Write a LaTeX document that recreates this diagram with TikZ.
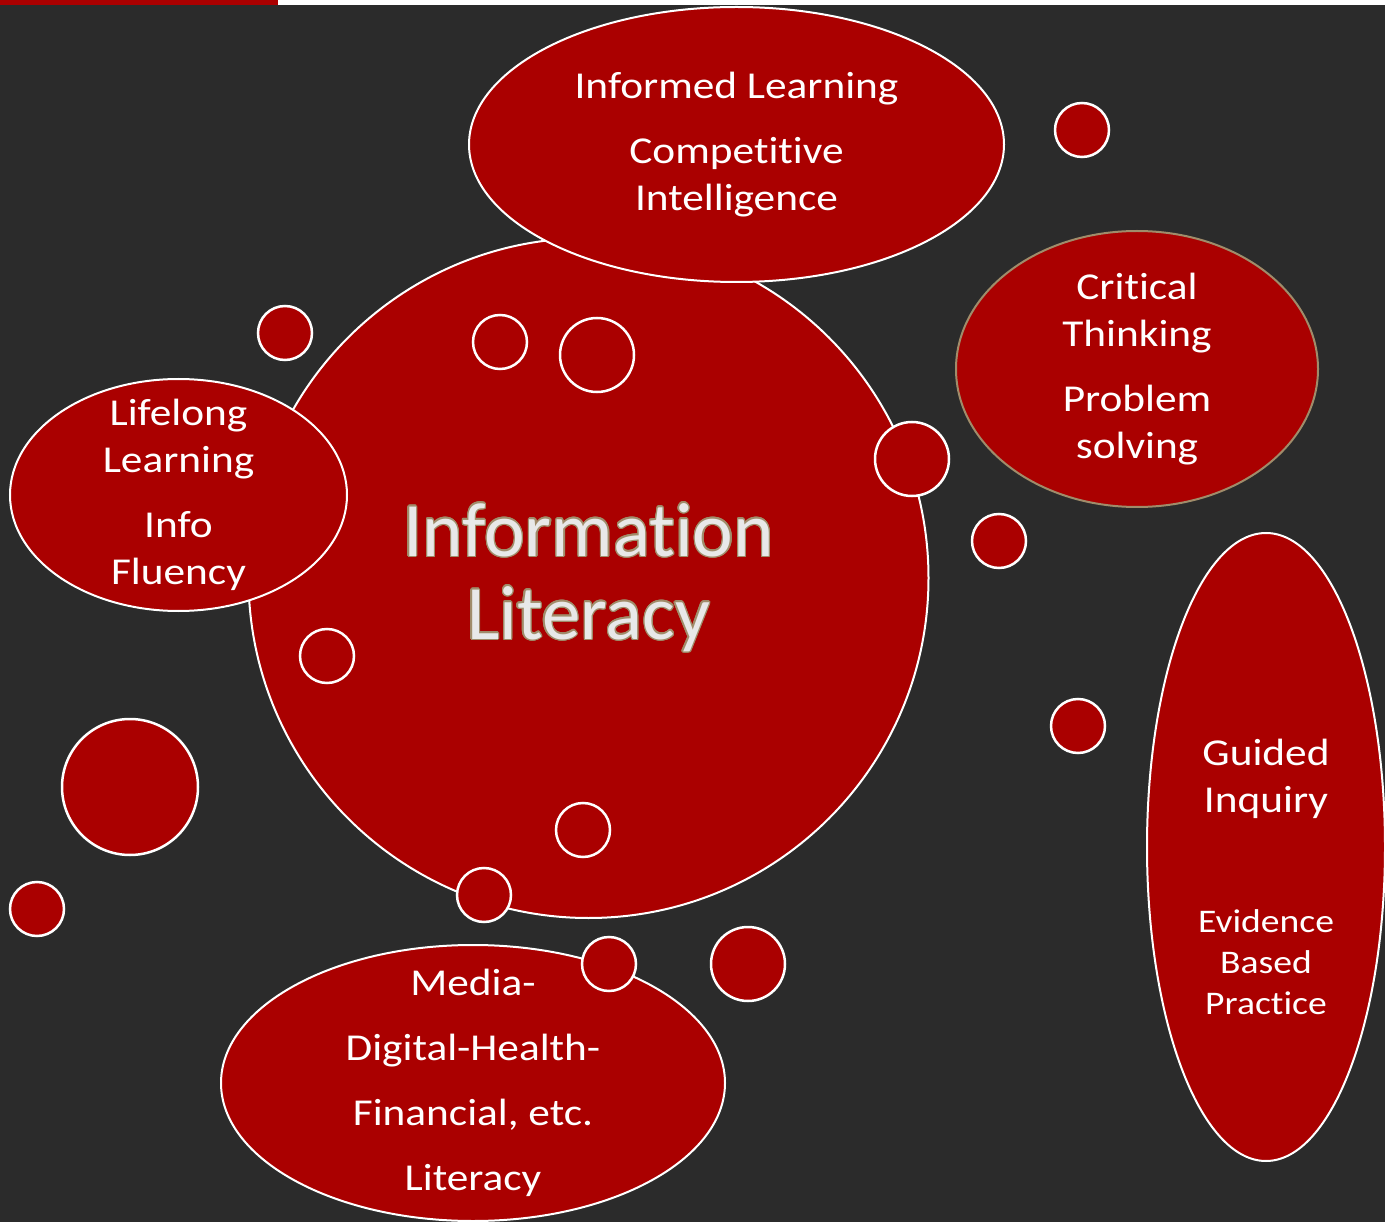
\documentclass[tikz,border=0pt]{standalone}
\usepackage{fontspec}
\setmainfont[Ligatures={NoCommon}]{Carlito}
\newfontfamily\ample[FakeStretch=1.14, Ligatures={NoCommon}]{Carlito}
\usepackage{contour}
\usetikzlibrary{shapes.geometric}

\definecolor{fons}{HTML}{2B2B2B}
\definecolor{vermell}{HTML}{AA0000}
\definecolor{daurat}{HTML}{A08C6A}
\definecolor{gris}{HTML}{E8E8E8}
\contourlength{1.3pt}

\begin{document}
\begin{tikzpicture}[x=1pt,y=-1pt,
    bombolla/.style={ellipse, draw=white, line width=2pt, fill=vermell, inner sep=0pt},
    bolla/.style={circle, draw=white, line width=2.5pt, fill=vermell, inner sep=0pt, minimum size=#1},
    bolla/.default=54pt,
    rotul/.style={text=white, align=center, font=\ample\fontsize{38}{47}\selectfont}]
        % Fons i franja superior
        \fill[fons] (0,0) rectangle (1385,1222);
        \fill[white] (278,0) rectangle (1385,5);
        \fill[vermell] (0,0) rectangle (278,5);
        \useasboundingbox (0,0) rectangle (1385,1222);

        % Cercle central
        \node[bolla=680pt, line width=2pt] (info) at (588.5,578) {};

        % Bombolles grans
        \node[bombolla, minimum width=535pt, minimum height=275pt] (informed) at (736.5,144.5) {};
        \node[bombolla, minimum width=337pt, minimum height=232pt] (lifelong) at (178.5,495) {};
        \node[bombolla, draw=daurat, minimum width=362pt, minimum height=276pt] (critical) at (1137,369) {};
        \node[bombolla, minimum width=238pt, minimum height=628pt] (guided) at (1266,847) {};
        \node[bombolla, minimum width=504pt, minimum height=276pt] (media) at (473,1083) {};

        % Bolles petites
        \node[bolla] (b1) at (1082,130) {};
        \node[bolla] (b2) at (285,333) {};
        \node[bolla] (b3) at (500,342) {};
        \node[bolla=74pt] (b4) at (597,355) {};
        \node[bolla=74pt] (b5) at (912,459) {};
        \node[bolla] (b6) at (999,541) {};
        \node[bolla] (b7) at (327,656) {};
        \node[bolla] (b8) at (1078,726) {};
        \node[bolla=136pt] (b9) at (130,787) {};
        \node[bolla] (b10) at (583,830) {};
        \node[bolla] (b11) at (484,895) {};
        \node[bolla] (b12) at (37,909) {};
        \node[bolla] (b13) at (609,964) {};
        \node[bolla=74pt] (b14) at (748,964) {};

        % Textos
        \node[rotul, font=\rmfamily\fontsize{77}{83}\selectfont, text=gris] (tinfo) at (info)
            {\contour{daurat}{Information}\\\contour{daurat}{Literacy}};
        \node[rotul] (tinformed) at (informed) {Informed Learning\\[18pt]Competitive\\Intelligence};
        \node[rotul] (tlifelong) at (lifelong) {Lifelong\\Learning\\[18pt]Info\\Fluency};
        \node[rotul] (tcritical) at (critical) {Critical\\Thinking\\[18pt]Problem\\solving};
        \node[rotul] (tguided) at (1266,779) {Guided\\Inquiry};
        \node[rotul, font=\ample\fontsize{33}{41}\selectfont] (tevidence) at (1266,962) {Evidence\\Based\\Practice};
        \node[rotul] (tmedia) at (media) {Media-\\[18pt]Digital-Health-\\[18pt]Financial, etc.\\[18pt]Literacy};
\end{tikzpicture}
\end{document}
